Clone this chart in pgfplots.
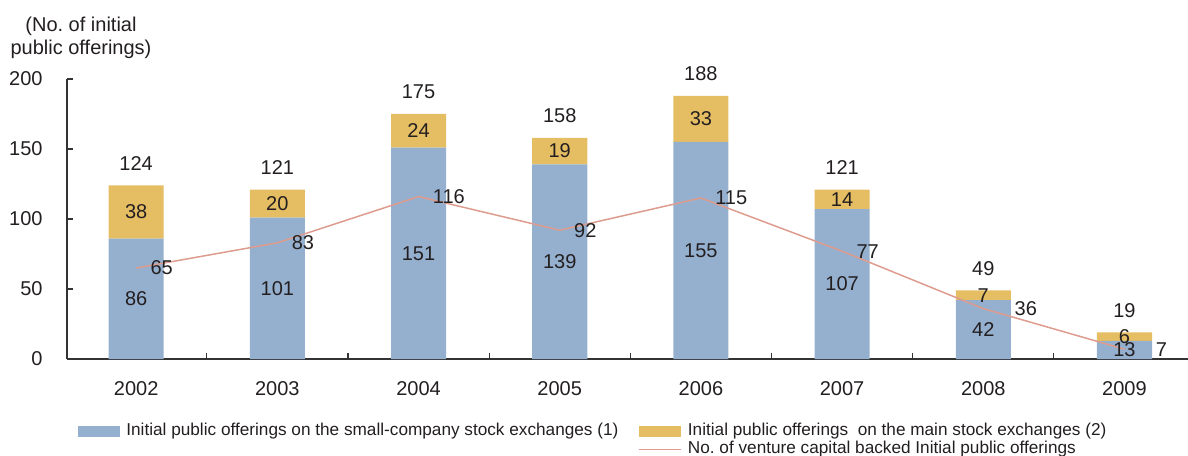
\documentclass[border=0pt]{standalone}
\usepackage{fontspec}
\setmainfont{Liberation Sans}
\usepackage{pgfplots}
\usepackage{pgfplotstable}
\pgfplotsset{compat=1.18}
\pgfplotsset{/pgf/number format/assume math mode=true}

\definecolor{smallblue}{HTML}{95B0CF}
\definecolor{mainorange}{HTML}{E5BD62}
\definecolor{vcline}{HTML}{DE9C8E}
\definecolor{axisgray}{HTML}{333333}
\definecolor{txt}{HTML}{231F20}

% x = category position (2002 -> 0)
\pgfplotstableread{
x year small main total vc
0 2002 86 38 124 65
1 2003 101 20 121 83
2 2004 151 24 175 116
3 2005 139 19 158 92
4 2006 155 33 188 115
5 2007 107 14 121 77
6 2008 42 7 49 36
7 2009 13 6 19 7
}\ipodata

\pgfplotsset{
  common/.style={
    at={(0,0)}, anchor=south west,
    scale only axis, width=560.5pt, height=140pt,
    xmin=-0.49, xmax=7.45, ymin=0, ymax=200,
  },
  lbl/.style={
    draw=none, mark=none, forget plot,
    nodes near coords, point meta=explicit,
  },
}

\begin{document}
\begin{tikzpicture}
\begin{axis}[
    common, name=bars,
    ybar stacked, bar width=0.39,
    axis x line*=bottom, axis y line*=left,
    axis line style={axisgray, line width=0.8pt},
    tick align=inside,
    tick style={axisgray, line width=0.6pt},
    major tick length=3pt,
    ytick={0,50,...,200},
    yticklabel style={anchor=east, inner sep=0pt, xshift=-12pt, font=\fontsize{10}{12}\selectfont, text=txt},
    xtick={0.5,1.5,...,6.5},
    xticklabels={},
    extra x ticks={0,...,7},
    extra x tick labels={2002,2003,2004,2005,2006,2007,2008,2009},
    extra x tick style={major tick length=0pt,
      xticklabel style={anchor=base, inner sep=0pt, yshift=-18pt, font=\fontsize{10}{12}\selectfont, text=txt}},
    legend columns=2,
    legend cell align=left,
    legend style={at={(0,0)}, anchor=north west, xshift=5.5pt, yshift=-31.5pt,
      draw=none, fill=none, inner sep=0pt,
      font=\fontsize{8.6}{9}\selectfont, text=txt,
      nodes={inner sep=0pt, text height=6.5pt, text depth=2.5pt},
      /tikz/every odd column/.style={column sep=3pt},
      /tikz/every even column/.style={column sep=10pt},
      row sep=0pt},
  ]
  \addplot[fill=smallblue, draw=none,
    legend image code/.code={\fill[smallblue] (0pt,-2.75pt) rectangle (21pt,2.75pt);}]
    table[x=x, y=small]{\ipodata};
  \addlegendentry{Initial public offerings on the small-company stock exchanges (1)}
  \addplot[fill=mainorange, draw=none,
    legend image code/.code={\fill[mainorange] (0pt,-2.75pt) rectangle (21pt,2.75pt);}]
    table[x=x, y=main]{\ipodata};
  \addlegendentry{Initial public offerings\ \ on the main stock exchanges (2)}
  \addlegendimage{empty legend}
  \addlegendentry{}
  \addlegendimage{legend image code/.code={\draw[vcline, line width=0.75pt] (0pt,0pt) -- (21pt,0pt);}}
  \addlegendentry{No.\ of venture capital backed Initial public offerings}
\end{axis}

\begin{axis}[
    common, hide axis, clip=false,
    every node near coord/.append style={font=\fontsize{10}{12}\selectfont, text=txt, inner sep=0pt},
  ]
  \addplot[vcline, line width=0.75pt, mark=none] table[x=x, y=vc]{\ipodata};
  % segment values, centred in each segment
  \addplot[lbl, every node near coord/.append style={anchor=center}]
    table[x=x, y expr=\thisrow{small}/2, meta=small]{\ipodata};
  \addplot[lbl, every node near coord/.append style={anchor=center}]
    table[x=x, y expr=\thisrow{small}+\thisrow{main}/2, meta=main]{\ipodata};
  % totals above bars
  \addplot[lbl, every node near coord/.append style={anchor=center, yshift=11pt}]
    table[x=x, y=total, meta=total]{\ipodata};
  % venture capital line values
  \addplot[lbl, restrict x to domain=-1:5.5,
    every node near coord/.append style={anchor=west, xshift=7pt}]
    table[x=x, y=vc, meta=vc]{\ipodata};
  \addplot[lbl, restrict x to domain=5.5:8,
    every node near coord/.append style={anchor=west, xshift=15.5pt}]
    table[x=x, y=vc, meta=vc]{\ipodata};
\end{axis}

\node[anchor=base, font=\fontsize{10}{12}\selectfont, text=txt]
  at ([xshift=7pt, yshift=23.5pt]bars.north west) {(No.\ of initial};
\node[anchor=base, font=\fontsize{10}{12}\selectfont, text=txt]
  at ([xshift=7pt, yshift=12pt]bars.north west) {public offerings)};

\pgfresetboundingbox
\useasboundingbox (-33.5pt,-48pt) rectangle (560.5pt,179.5pt);
\end{tikzpicture}
\end{document}
